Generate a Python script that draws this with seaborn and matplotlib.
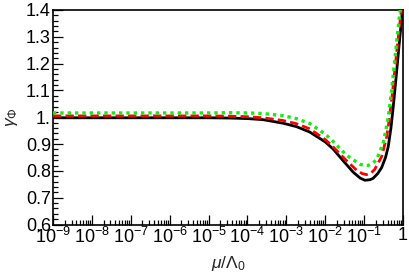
import numpy as np
import pandas as pd
import matplotlib
matplotlib.use("Agg")
import matplotlib.pyplot as plt
import seaborn as sns
from matplotlib.ticker import FixedLocator, LogLocator, AutoMinorLocator, FuncFormatter, NullFormatter

# log10(mu/Lambda0) and gamma_Phi for the three curves
black_log = [-9.0, -7.0, -5.0, -4.46, -4.0, -3.6, -3.09, -2.74, -2.4, -2.0, -1.8, -1.54,
             -1.28, -1.1, -0.98, -0.85, -0.77, -0.65, -0.55, -0.45, -0.38, -0.31, -0.25,
             -0.17, -0.1, -0.02, 0.0]
black_val = [0.998, 0.998, 0.998, 0.997, 0.995, 0.991, 0.978, 0.965, 0.945, 0.908, 0.882, 0.838,
             0.795, 0.773, 0.765, 0.767, 0.772, 0.790, 0.812, 0.850, 0.890, 0.960, 1.040,
             1.160, 1.270, 1.390, 1.420]

red_log = [-9.0, -7.0, -5.0, -4.46, -4.0, -3.6, -3.09, -2.74, -2.4, -2.0, -1.8, -1.45,
           -1.19, -1.05, -0.94, -0.83, -0.73, -0.55, -0.42, -0.36, -0.28, -0.2, -0.12,
           -0.05, 0.0]
red_val = [1.005, 1.005, 1.005, 1.004, 1.002, 0.998, 0.988, 0.976, 0.957, 0.917, 0.890, 0.838,
           0.802, 0.790, 0.786, 0.791, 0.805, 0.853, 0.927, 0.985, 1.080, 1.190, 1.300,
           1.390, 1.460]

green_log = [-9.0, -7.0, -5.0, -4.46, -4.0, -3.6, -3.09, -2.74, -2.4, -2.0, -1.8, -1.45,
             -1.11, -1.0, -0.9, -0.79, -0.68, -0.51, -0.43, -0.37, -0.3, -0.22, -0.15,
             -0.08, 0.0]
green_val = [1.016, 1.016, 1.016, 1.017, 1.016, 1.014, 1.006, 0.995, 0.977, 0.937, 0.910, 0.858,
             0.825, 0.820, 0.820, 0.827, 0.842, 0.903, 0.960, 1.010, 1.090, 1.200, 1.300,
             1.390, 1.500]

xtick_exps = [-9, -8, -7, -6, -5, -4, -3, -2, -1, 0]
ytick_vals = [0.6, 0.7, 0.8, 0.9, 1.0, 1.1, 1.2, 1.3, 1.4]

sns.set_style("ticks")
plt.rcParams["font.family"] = ["Liberation Sans", "DejaVu Sans"]
plt.rcParams["mathtext.fontset"] = "custom"
plt.rcParams["mathtext.rm"] = "Liberation Sans"
plt.rcParams["mathtext.it"] = "Liberation Sans:italic"
plt.rcParams["mathtext.bf"] = "Liberation Sans:bold"

fig = plt.figure(figsize=(4.09, 2.76), dpi=100)
ax = fig.add_axes([53 / 409, 1 - 224.5 / 276, 350 / 409, 214.5 / 276])

df_b = pd.DataFrame({"x": 10.0 ** np.array(black_log), "y": black_val})
df_r = pd.DataFrame({"x": 10.0 ** np.array(red_log), "y": red_val})
df_g = pd.DataFrame({"x": 10.0 ** np.array(green_log), "y": green_val})

sns.lineplot(data=df_b, x="x", y="y", ax=ax, color="black", lw=2.0, sort=False, zorder=3)
sns.lineplot(data=df_r, x="x", y="y", ax=ax, color="#ff0000", lw=2.0, sort=False, zorder=4)
ax.lines[-1].set_dashes([3.0, 1.5])
sns.lineplot(data=df_g, x="x", y="y", ax=ax, color="#11ee11", lw=2.4, sort=False, zorder=5)
ax.lines[-1].set_dashes([1.0, 1.2])

ax.set_xscale("log")
ax.set_xlim(1e-9, 1.0)
ax.set_ylim(0.6, 1.4)

ax.xaxis.set_major_locator(FixedLocator([10.0 ** e for e in xtick_exps]))
def fmt(v, pos):
    e = int(round(np.log10(v)))
    return "1" if e == 0 else r"$10^{%d}$" % e
ax.xaxis.set_major_formatter(FuncFormatter(fmt))
ax.xaxis.set_minor_locator(LogLocator(base=10, subs=np.arange(2, 10), numticks=100))
ax.xaxis.set_minor_formatter(NullFormatter())

ax.yaxis.set_major_locator(FixedLocator(ytick_vals))
ax.set_yticklabels([("%g" % v) if v != 1.0 else "1." for v in ytick_vals])
ax.yaxis.set_minor_locator(AutoMinorLocator(5))

ax.tick_params(which="both", direction="in", top=False, right=False, width=0.9, colors="black",
               labelsize=13)
ax.tick_params(which="major", length=7, pad=1.5)
ax.tick_params(which="minor", length=3.5)
for s in ax.spines.values():
    s.set_linewidth(1.2)
    s.set_color("black")

ax.set_xlabel(r"$\mu/\Lambda_{\mathit{0}}$", fontsize=12.5, labelpad=5)
ax.set_ylabel(r"$\gamma_{\mathit{Φ}}$", fontsize=12.5, labelpad=4)

fig.savefig("out.png", dpi=100)
